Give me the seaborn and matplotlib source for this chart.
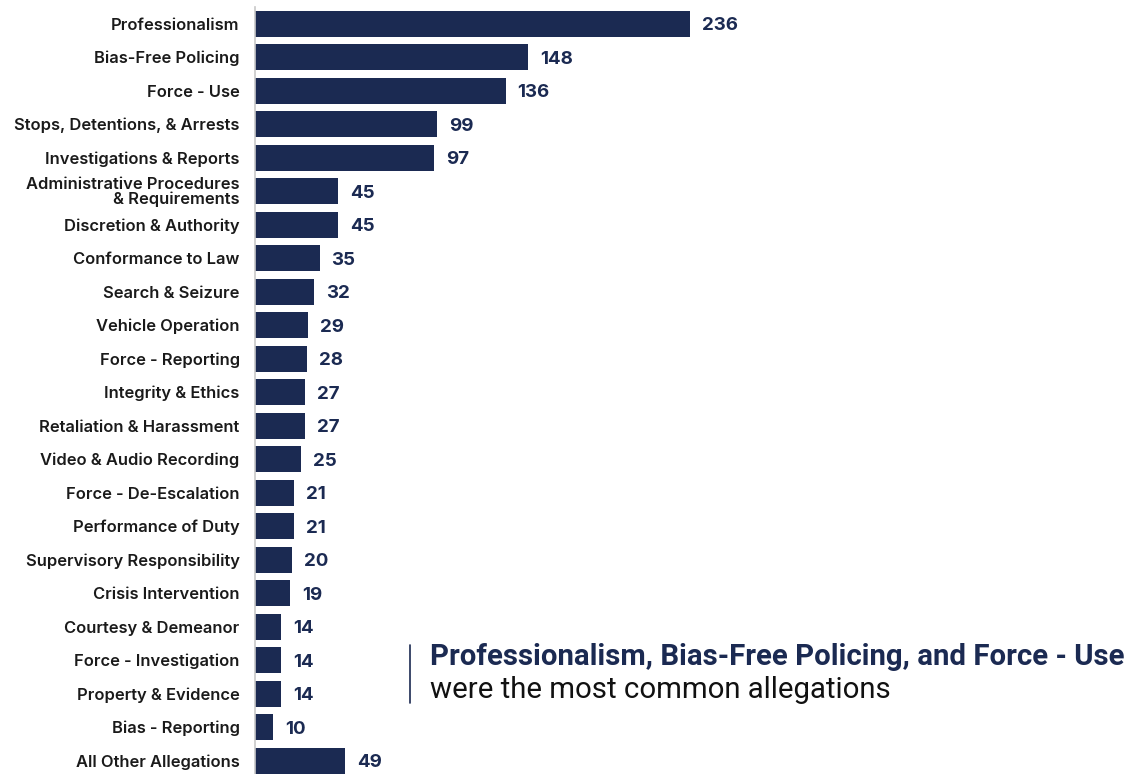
import matplotlib
matplotlib.use("Agg")
import matplotlib.pyplot as plt
import seaborn as sns
import pandas as pd

categories = [
    "Professionalism", "Bias-Free Policing", "Force - Use",
    "Stops, Detentions, & Arrests", "Investigations & Reports",
    "Administrative Procedures\n& Requirements", "Discretion & Authority",
    "Conformance to Law", "Search & Seizure", "Vehicle Operation",
    "Force - Reporting", "Integrity & Ethics", "Retaliation & Harassment",
    "Video & Audio Recording", "Force - De-Escalation", "Performance of Duty",
    "Supervisory Responsibility", "Crisis Intervention", "Courtesy & Demeanor",
    "Force - Investigation", "Property & Evidence", "Bias - Reporting",
    "All Other Allegations",
]
values = [236, 148, 136, 99, 97, 45, 45, 35, 32, 29, 28, 27, 27, 25, 21, 21,
          20, 19, 14, 14, 14, 10, 49]

annotation_bold = "Professionalism, Bias-Free Policing, and Force - Use"
annotation_rest = "were the most common allegations"

NAVY = "#1b2a52"

sns.set_theme(style="white")
plt.rcParams["font.family"] = ["Inter", "DejaVu Sans"]

df = pd.DataFrame({"category": categories, "value": values})

fig = plt.figure(figsize=(11.36, 7.74), dpi=100)
ax = fig.add_axes([255 / 1136, 0, 1 - 255 / 1136, 767 / 774])

sns.barplot(data=df, x="value", y="category", orient="h", color=NAVY,
            saturation=1, width=0.78, linewidth=0, ax=ax)

ax.set_xlim(0, 478)
ax.set_ylim(22.4, -0.5)
ax.set_xlabel("")
ax.set_ylabel("")
ax.set_xticks([])
for s in ["top", "right", "bottom"]:
    ax.spines[s].set_visible(False)
ax.spines["left"].set_color("#c8c8c8")
ax.spines["left"].set_linewidth(1.2)

ax.set_yticks(range(len(categories)))
ax.set_yticklabels(categories, fontsize=11.9, fontweight="semibold",
                   color="#1a1a1a", linespacing=0.95)
ax.tick_params(axis="y", length=0, pad=11)

for i, v in enumerate(values):
    ax.text(v + 6.5, i, str(v), va="center_baseline", ha="left", fontsize=13.5,
            fontweight="bold", color=NAVY)

fig.text(430 / 1136, 1 - 657 / 774, annotation_bold, fontsize=21.2,
         fontweight="bold", color=NAVY, va="center", ha="left",
         family=["Roboto", "DejaVu Sans"])
fig.text(430 / 1136, 1 - 690 / 774, annotation_rest, fontsize=21.2,
         color="#111111", va="center", ha="left",
         family=["Roboto", "DejaVu Sans"])
fig.add_artist(plt.Line2D([410 / 1136, 410 / 1136],
                          [1 - 645 / 774, 1 - 703 / 774],
                          color=NAVY, linewidth=1.2))

fig.savefig("out.png", dpi=100)
